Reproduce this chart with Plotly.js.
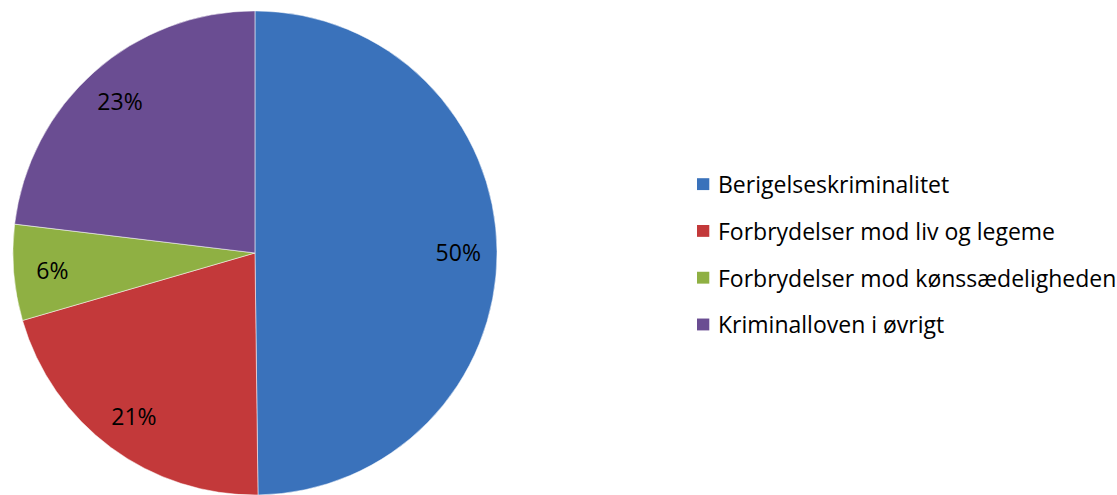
<!DOCTYPE html>
<html>
<head>
<meta charset="utf-8">
<script src="https://cdn.plot.ly/plotly-3.0.1.min.js"></script>
<style>
  html, body { margin: 0; padding: 0; background: #fff; }
  #chart { width: 1117px; height: 495px; }
</style>
</head>
<body>
<div id="chart"></div>
<script>
const labels = [
  "Berigelseskriminalitet",
  "Forbrydelser mod liv og legeme",
  "Forbrydelser mod kønssædeligheden",
  "Kriminalloven i øvrigt",
];
const shares = [49.8, 20.7, 6.4, 23.1];
const colors = ["#3a72bb", "#c3393a", "#8fb043", "#6a4d92"];

const font = "'Open Sans', Lato, sans-serif";
const pieDomain = { x: [0.0107, 0.4458], y: [0, 0.978] };

// hand-built legend so the rows can be spaced like the original
const legendTop = 0.628;
const legendStep = 0.0945;
const shapes = labels.map((_, i) => ({
  type: "rect",
  xref: "paper",
  yref: "paper",
  x0: 0.624,
  x1: 0.635,
  y0: legendTop - i * legendStep - 0.012,
  y1: legendTop - i * legendStep + 0.012,
  fillcolor: colors[i],
  line: { width: 0 },
}));
const annotations = labels.map((name, i) => ({
  xref: "paper",
  yref: "paper",
  x: 0.641,
  y: legendTop - i * legendStep,
  xanchor: "left",
  yanchor: "middle",
  text: name,
  showarrow: false,
  font: { family: font, size: 23, color: "#000" },
}));

Plotly.newPlot(
  "chart",
  [
    {
      type: "pie",
      labels,
      values: shares,
      sort: false,
      direction: "clockwise",
      rotation: 0,
      marker: { colors, line: { color: "rgba(255,255,255,0.5)", width: 1 } },
      textinfo: "none",
      hoverinfo: "label+percent",
      domain: pieDomain,
      showlegend: false,
    },
    // transparent ring on top: only carries the percentage labels, pushed outward
    {
      type: "pie",
      labels,
      values: shares,
      sort: false,
      direction: "clockwise",
      rotation: 0,
      hole: 0.68,
      marker: { colors: labels.map(() => "rgba(0,0,0,0)"), line: { width: 0 } },
      texttemplate: "%{percent:.0%}",
      textposition: "inside",
      insidetextorientation: "horizontal",
      textfont: { family: font, size: 23, color: "#000" },
      hoverinfo: "skip",
      domain: pieDomain,
      showlegend: false,
    },
  ],
  {
    width: 1117,
    height: 495,
    margin: { l: 0, r: 0, t: 0, b: 0 },
    paper_bgcolor: "#fff",
    showlegend: false,
    shapes,
    annotations,
  },
  { displayModeBar: false },
);
</script>
</body>
</html>
